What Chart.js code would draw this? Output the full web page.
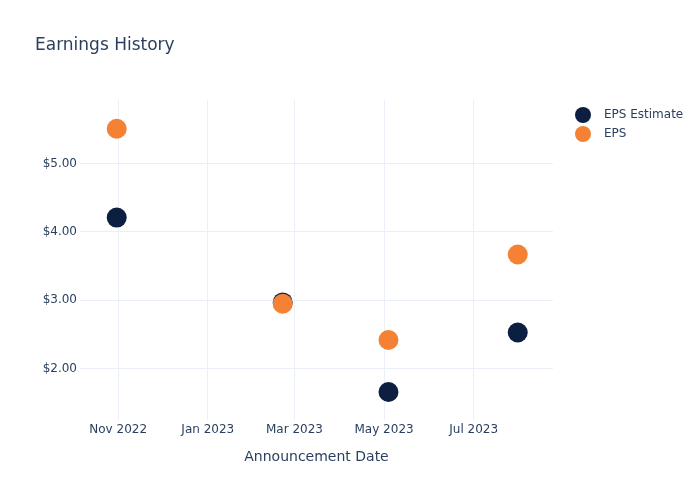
<!DOCTYPE html>
<html>
<head>
<meta charset="utf-8">
<script src="https://cdn.jsdelivr.net/npm/chart.js@4/dist/chart.umd.min.js"></script>
<style>
  html, body { margin: 0; padding: 0; background: #fff; }
  #wrap { width: 700px; height: 500px; position: relative; }
</style>
</head>
<body>
<div id="wrap"><canvas id="c" width="700" height="500"></canvas></div>
<script>
// ---- data ----
const announcementDates = ['2022-10-31', '2023-02-21', '2023-05-04', '2023-07-31'];
const epsEstimate = [4.21, 2.97, 1.66, 2.53];
const epsActual = [5.51, 2.95, 2.42, 3.67];
const xTickDates = ['2022-11-01', '2023-01-01', '2023-03-01', '2023-05-01', '2023-07-01'];
const xTickLabels = ['Nov 2022', 'Jan 2023', 'Mar 2023', 'May 2023', 'Jul 2023'];
const yTickValues = [2, 3, 4, 5];
const seriesNames = ['EPS Estimate', 'EPS'];
const xRange = ['2022-10-06', '2023-08-24'];
const yRange = [1.25, 5.93];

const toMs = s => Date.parse(s + 'T00:00:00Z');
const FONT = '"DejaVu Sans", sans-serif';
const TEXT = '#2a3f5f';
const GRID = '#ebf0f8';
const COLORS = ['#0c1f40', '#f58234'];

const overlay = {
  id: 'overlay',
  afterDraw(chart) {
    const ctx = chart.ctx;
    ctx.save();
    ctx.fillStyle = TEXT;
    ctx.font = '17px ' + FONT;
    ctx.textBaseline = 'alphabetic';
    ctx.textAlign = 'left';
    ctx.fillText('Earnings History', 35, 50);
    ctx.font = '12px ' + FONT;
    ctx.textBaseline = 'middle';
    seriesNames.forEach((n, i) => {
      const y = 115 + i * 19;
      ctx.beginPath();
      ctx.arc(583, y, 8, 0, Math.PI * 2);
      ctx.fillStyle = COLORS[i];
      ctx.fill();
      ctx.fillStyle = TEXT;
      ctx.fillText(n, 604, y);
    });
    ctx.restore();
  }
};

new Chart(document.getElementById('c'), {
  type: 'scatter',
  data: {
    datasets: [
      {
        label: seriesNames[0],
        data: announcementDates.map((d, i) => ({ x: toMs(d), y: epsEstimate[i] })),
        backgroundColor: COLORS[0],
        borderColor: COLORS[0],
        pointRadius: 10,
        pointHoverRadius: 10,
        borderWidth: 0,
        order: 1
      },
      {
        label: seriesNames[1],
        data: announcementDates.map((d, i) => ({ x: toMs(d), y: epsActual[i] })),
        backgroundColor: COLORS[1],
        borderColor: COLORS[1],
        pointRadius: 10,
        pointHoverRadius: 10,
        borderWidth: 0,
        order: 0
      }
    ]
  },
  options: {
    responsive: false,
    animation: false,
    devicePixelRatio: 1,
    layout: { padding: { top: 100, right: 147, bottom: 0, left: 0 } },
    plugins: { legend: { display: false }, tooltip: { enabled: false }, title: { display: false } },
    scales: {
      x: {
        type: 'linear',
        min: toMs(xRange[0]),
        max: toMs(xRange[1]),
        afterBuildTicks(scale) { scale.ticks = xTickDates.map(d => ({ value: toMs(d) })); },
        afterFit(scale) { scale.height = 80; },
        ticks: {
          color: TEXT,
          font: { family: FONT, size: 12 },
          padding: 3,
          maxRotation: 0,
          autoSkip: false,
          callback(v) { const i = xTickDates.map(toMs).indexOf(v); return i >= 0 ? xTickLabels[i] : ''; }
        },
        grid: { color: GRID, lineWidth: 1, drawTicks: false },
        border: { display: false },
        title: {
          display: true,
          text: 'Announcement Date',
          color: TEXT,
          font: { family: FONT, size: 14 },
          padding: { top: 0, bottom: 34 }
        }
      },
      y: {
        type: 'linear',
        min: yRange[0],
        max: yRange[1],
        afterBuildTicks(scale) { scale.ticks = yTickValues.map(v => ({ value: v })); },
        afterFit(scale) { scale.width = 80; },
        ticks: {
          color: TEXT,
          font: { family: FONT, size: 12 },
          padding: 3,
          callback(v) { return '$' + Number(v).toFixed(2); }
        },
        grid: { color: GRID, lineWidth: 1, drawTicks: false },
        border: { display: false }
      }
    }
  },
  plugins: [overlay]
});
</script>
</body>
</html>
